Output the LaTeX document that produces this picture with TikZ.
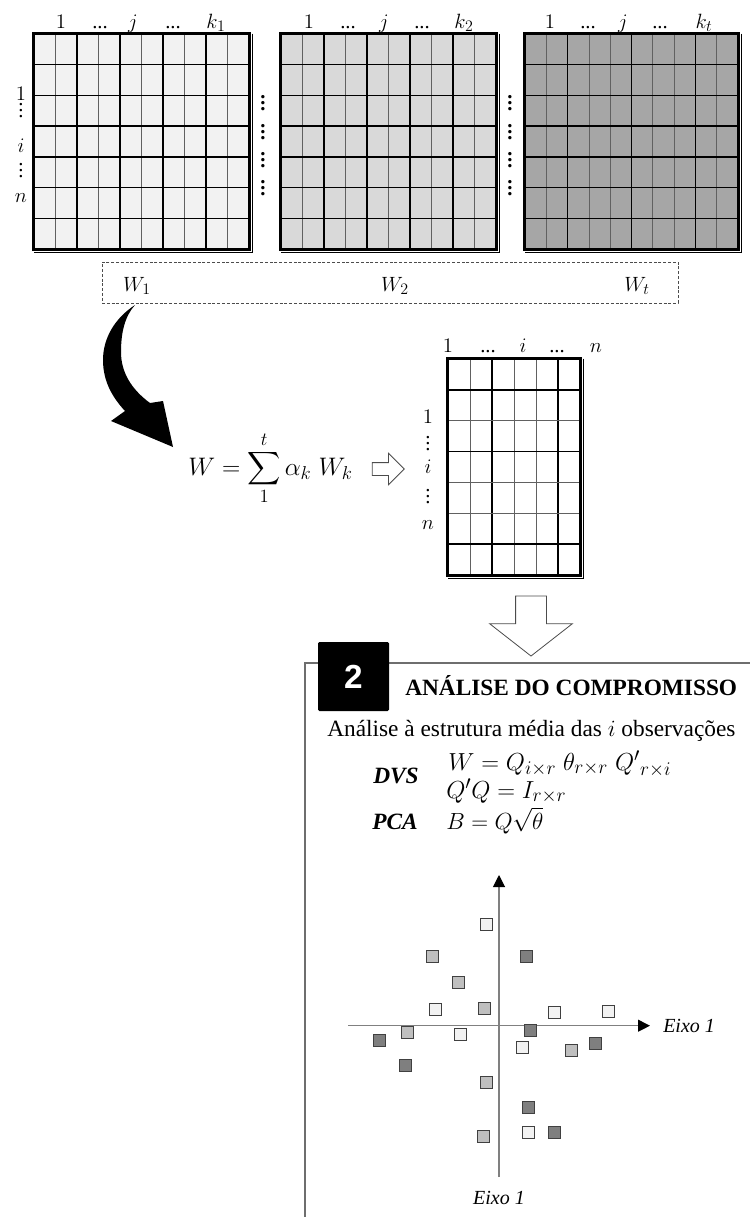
\RequirePackage{fix-cm}
\documentclass[tikz,border=0pt]{standalone}
\usepackage{amsmath}
\usepackage{fontspec}
\setmainfont{Liberation Serif}
\newfontfamily\sansfam{Liberation Sans}
\usetikzlibrary{shapes.arrows,arrows.meta}
\DeclareMathSizes{15.5}{15.5}{12}{9}
\DeclareMathSizes{17.5}{17.5}{13.5}{10.5}
\DeclareMathSizes{18.5}{18.5}{14.5}{11}
\DeclareMathSizes{19}{19}{14}{11}
\definecolor{mA}{HTML}{F2F2F2}
\definecolor{mB}{HTML}{D9D9D9}
\definecolor{mC}{HTML}{A6A6A6}
\definecolor{sqL}{HTML}{F2F2F2}
\definecolor{sqM}{HTML}{BFBFBF}
\definecolor{sqD}{HTML}{7F7F7F}
\definecolor{axisgray}{HTML}{808080}
\definecolor{framegray}{HTML}{6E6E6E}
\newcommand{\vgrid}[7]{\foreach \cc in {#7}{\draw[#6] ({#1+\cc*(#2-#1)/#5},#3) -- ({#1+\cc*(#2-#1)/#5},#4);}}
\newcommand{\hgrid}[7]{\foreach \rr in {#7}{\draw[#6] (#1,{#3+\rr*(#4-#3)/#5}) -- (#2,{#3+\rr*(#4-#3)/#5});}}
\newcommand{\vdd}{\vbox{\baselineskip4.2pt\lineskiplimit0pt\hbox{.}\hbox{.}\hbox{.}}}
\tikzset{
  thinln/.style={draw=black!62, line width=0.6pt},
  thickln/.style={draw=black, line width=1.0pt},
  borderln/.style={draw=black, line width=1.9pt},
  matbox/.style={inner sep=0pt, minimum width=161.25pt, minimum height=161.25pt},
  lab/.style={inner sep=0pt, font=\fontsize{15.5}{17}\selectfont},
  dotlab/.style={inner sep=0pt, font=\fontsize{15.5}{17}\selectfont, anchor=base},
  sq/.style={draw=black!75, line width=0.5pt, minimum size=9pt, inner sep=0pt},
  bigtxt/.style={inner sep=0pt, font=\fontsize{17.5}{20}\selectfont, anchor=base west},
  hollow/.style={single arrow, draw=black!70, fill=white, line width=0.6pt},
  axisln/.style={draw=axisgray, line width=0.8pt, -{Triangle[length=9pt,width=9pt,color=black]}},
  axlab/.style={inner sep=0pt, font=\fontsize{15}{17}\selectfont\itshape}
}
\begin{document}
\begin{tikzpicture}[x=0.75pt,y=-0.75pt]
\useasboundingbox (0,0) rectangle (750,1217);

% ---------- matrix 1 ----------
\node[matbox, fill=mA] (M1) at (141.5,141.5) {};
\vgrid{34}{249}{34}{249}{10}{thinln}{1,3,5,7,9}
\vgrid{34}{249}{34}{249}{10}{thickln}{2,4,6,8}
\hgrid{34}{249}{34}{249}{7}{thickln}{1,...,6}
\draw[borderln] (M1.north west) rectangle (M1.south east);
\draw[line width=0.5pt] ([xshift=2.2pt,yshift=0pt]M1.north east) -- ([xshift=2.2pt,yshift=-2.2pt]M1.south east) -- ([yshift=-2.2pt]M1.south west);

% ---------- matrix 2 ----------
\node[matbox, fill=mB] (M2) at (388.5,141.5) {};
\vgrid{281}{496}{34}{249}{10}{thinln}{1,3,5,7,9}
\vgrid{281}{496}{34}{249}{10}{thickln}{2,4,6,8}
\hgrid{281}{496}{34}{249}{7}{thickln}{1,...,6}
\draw[borderln] (M2.north west) rectangle (M2.south east);
\draw[line width=0.5pt] ([xshift=2.2pt]M2.north east) -- ([xshift=2.2pt,yshift=-2.2pt]M2.south east) -- ([yshift=-2.2pt]M2.south west);

% ---------- matrix 3 ----------
\node[matbox, fill=mC, minimum width=159.75pt] (M3) at (631.5,141.5) {};
\vgrid{525}{738}{34}{249}{10}{thinln}{1,3,4,6,7,9}
\vgrid{525}{738}{34}{249}{10}{thickln}{2,5,8}
\hgrid{525}{738}{34}{249}{7}{thickln}{1,...,6}
\draw[borderln] (M3.north west) rectangle (M3.south east);
\draw[line width=0.5pt] ([xshift=2.2pt]M3.north east) -- ([xshift=2.2pt,yshift=-2.2pt]M3.south east) -- ([yshift=-2.2pt]M3.south west);

% ---------- labels of top matrices ----------
\foreach \xa/\xb/\xc/\xd/\xe/\kk [count=\q] in {61/100/133/173/216/1, 309/348/384/422/464/2, 550/588/623/660/704/t}{
  \node[lab, anchor=base] (c1\q) at (\xa,28) {$1$};
  \node[lab, anchor=base] (c2\q) at (\xb,28) {...};
  \node[lab, anchor=base] (c3\q) at (\xc,28) {$j$};
  \node[lab, anchor=base] (c4\q) at (\xd,28) {...};
  \node[lab, anchor=base] (c5\q) at (\xe,28) {$k_{\kk}$};
}
\node[lab, anchor=base] (r1) at (21,100) {$1$};
\node[dotlab] (r2) at (21,117) {\vdd};
\node[lab, anchor=base] (r3) at (21,152) {$i$};
\node[dotlab] (r4) at (21,177) {\vdd};
\node[lab, anchor=base] (r5) at (21,202) {$n$};
% dots between matrices
\foreach \xx in {263,510}{
  \foreach \yy [count=\p] in {110,139,167,195}{
    \node[dotlab, font=\fontsize{15.5}{17}\selectfont\bfseries] (d\xx-\p) at (\xx,\yy) {\vdd};
  }
}

% ---------- dashed W box ----------
\node[draw=black!70, line width=0.6pt, dash pattern=on 2.2pt off 1.4pt,
      minimum width=432pt, minimum height=30.75pt, inner sep=0pt] (wbox) at (390,282.5) {};
\node[lab, anchor=base] (w1) at (137,291) {$W_1$};
\node[lab, anchor=base] (w2) at (395,291) {$W_2$};
\node[lab, anchor=base] (wt) at (637,291) {$W_t$};

% ---------- curved black arrow ----------
\fill[black] (135,305) .. controls (115,318) and (103,338) .. (103,360)
   .. controls (103,382) and (113,398) .. (125,411)
   -- (111,421) -- (173,447) -- (163,401) -- (150,403)
   .. controls (131,389) and (121,372) .. (121,352)
   .. controls (121,332) and (125,316) .. (135,305) -- cycle;

% ---------- formula ----------
\node[inner sep=0pt, anchor=base west, font=\fontsize{19}{22}\selectfont] (F) at (188,475)
   {$\displaystyle W = \sum_{1}^{t} \alpha_k\; W_k$};

\node[hollow, minimum height=24pt, inner xsep=0pt, inner ysep=4.5pt, single arrow head extend=7pt] (ar1) at (385,469) {};

% ---------- middle matrix ----------
\node[matbox, fill=white, minimum width=99pt, minimum height=162pt] (M) at (514,467) {};
\vgrid{448}{580}{359}{575}{6}{thinln}{1,3,4}
\vgrid{448}{580}{359}{575}{6}{thickln}{2,5}
\hgrid{448}{580}{359}{575}{7}{thinln}{2,4,5}
\hgrid{448}{580}{359}{575}{7}{thickln}{1,3,6}
\draw[borderln] (M.north west) rectangle (M.south east);
\draw[line width=0.5pt] ([xshift=2.2pt]M.north east) -- ([xshift=2.2pt,yshift=-2.2pt]M.south east) -- ([yshift=-2.2pt]M.south west);

\node[lab, anchor=base] (mc1) at (448,352) {$1$};
\node[lab, anchor=base] (mc2) at (488,352) {...};
\node[lab, anchor=base] (mc3) at (523,352) {$i$};
\node[lab, anchor=base] (mc4) at (557,352) {...};
\node[lab, anchor=base] (mc5) at (596,352) {$n$};
\node[lab, anchor=base] (mr1) at (428,423) {$1$};
\node[dotlab] (mr2) at (428,450) {\vdd};
\node[lab, anchor=base] (mr3) at (428,473) {$i$};
\node[dotlab] (mr4) at (428,503) {\vdd};
\node[lab, anchor=base] (mr5) at (428,529) {$n$};

\node[hollow, minimum height=45pt, inner xsep=11.25pt, inner ysep=0pt, single arrow head extend=19.5pt,
      single arrow tip angle=104, shape border rotate=270] (ar2) at (531,620) {};

% ---------- frame ----------
\draw[draw=framegray, line width=1.3pt] (305,1217) -- (305,663) -- (750,663);
\node[fill=black, minimum width=53.25pt, minimum height=51.75pt, inner sep=0pt, rounded corners=1pt,
      text=white, font=\sansfam\bfseries\fontsize{25}{25}\selectfont] (num) at (353.5,676.5) {2};
\node[bigtxt, font=\bfseries\fontsize{17.5}{20}\selectfont] (title) at (405,695) {ANÁLISE DO COMPROMISSO};
\node[bigtxt] (sub) at (327,736) {Análise à estrutura média das $i$ observações};
\node[bigtxt] (dvs) at (373,783) {\textbf{\textit{DVS}}};
\node[bigtxt, font=\fontsize{18.5}{20}\selectfont] (eq1) at (448,770) {$W = Q_{i\times r}\;\theta_{r\times r}\;{Q'}_{r\times i}$};
\node[bigtxt, font=\fontsize{18.5}{20}\selectfont] (eq2) at (446,798) {$Q'Q = I_{r\times r}$};
\node[bigtxt] (pca) at (372,829) {\textbf{\textit{PCA}}};
\node[bigtxt] (eq3) at (446,829) {$B = Q\sqrt{\theta}$};

% ---------- scatter ----------
\coordinate (hx0) at (348,1025.7);
\coordinate (hx1) at (650,1025.7);
\coordinate (vy0) at (499,1177);
\coordinate (vy1) at (499,875);
\draw[axisln] (hx0) -- (hx1);
\draw[axisln] (vy0) -- (vy1);
\node[axlab, anchor=west] (ex) at (663,1025.7) {Eixo 1};
\node[axlab] (ey) at (499,1198) {Eixo 1};

\foreach \px/\py/\col [count=\s] in {
  486.7/924/sqL, 432.3/956.7/sqM, 526/956.7/sqD, 458.3/982.3/sqM,
  435/1009/sqL, 484/1008.3/sqM, 554/1012.7/sqL, 608.7/1011/sqL,
  407/1032.7/sqM, 379.7/1040/sqD, 460.7/1034.3/sqL, 530.3/1030.3/sqD,
  522.3/1047/sqL, 571.7/1050/sqM, 595.3/1043.7/sqD, 405.7/1065.7/sqD,
  486.3/1082.7/sqM, 528.7/1107.3/sqD, 483/1136/sqM, 528.7/1132.7/sqL,
  554.3/1132.7/sqD}{
  \node[sq, fill=\col] (sq\s) at (\px,\py) {};
}
\end{tikzpicture}
\end{document}
